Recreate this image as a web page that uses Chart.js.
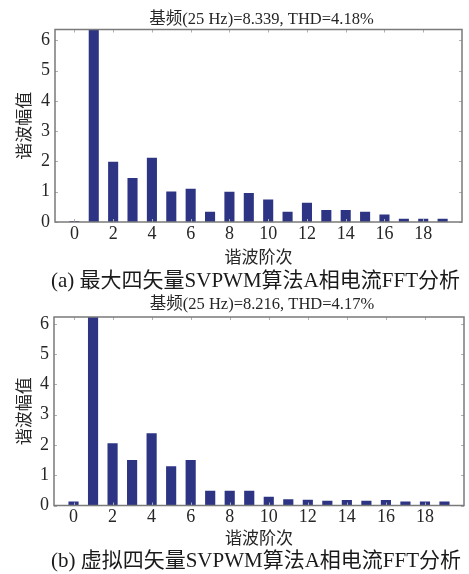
<!DOCTYPE html>
<html>
<head>
<meta charset="utf-8">
<script src="https://cdn.jsdelivr.net/npm/chart.js@4.4.1/dist/chart.umd.min.js"></script>
<style>
  html, body { margin: 0; padding: 0; background: #fff; }
  #wrap { position: relative; width: 469px; height: 574px; overflow: hidden; }
  canvas { position: absolute; left: 0; }
</style>
</head>
<body>
<div id="wrap">
  <canvas id="fftA" width="469" height="292" style="top:0px"></canvas>
  <canvas id="fftB" width="469" height="282" style="top:292px"></canvas>
</div>
<script>
// Harmonic orders shown on the spectrum (0 = DC, 1 = fundamental)
const harmonicOrders = [0, 1, 2, 3, 4, 5, 6, 7, 8, 9, 10, 11, 12, 13, 14, 15, 16, 17, 18, 19];

// (a) max four-vector SVPWM, phase-A current harmonic amplitudes
const magnitudesA = [0.03, 8.339, 1.99, 1.45, 2.12, 1.01, 1.10, 0.34, 1.00, 0.96, 0.74, 0.34, 0.64, 0.40, 0.40, 0.34, 0.25, 0.11, 0.11, 0.11];

// (b) virtual four-vector SVPWM, phase-A current harmonic amplitudes
const magnitudesB = [0.13, 8.216, 2.06, 1.50, 2.39, 1.30, 1.50, 0.49, 0.49, 0.49, 0.29, 0.21, 0.19, 0.16, 0.18, 0.16, 0.18, 0.13, 0.13, 0.13];

// Tick labels
const xTickValues = [0, 2, 4, 6, 8, 10, 12, 14, 16, 18];
const yTickValues = [0, 1, 2, 3, 4, 5, 6];

// Texts
const titleA = '基频(25 Hz)=8.339, THD=4.18%';
const titleB = '基频(25 Hz)=8.216, THD=4.17%';
const captionA = '(a) 最大四矢量SVPWM算法A相电流FFT分析';
const captionB = '(b) 虚拟四矢量SVPWM算法A相电流FFT分析';
const xAxisTitle = '谐波阶次';
const yAxisTitle = '谐波幅值';

const FONT = "'Liberation Serif', 'Noto Sans CJK SC', serif";
const TEXT = '#262626';
const BAR = '#2c3483';

// Box around the plot area with small inward tick marks
const framePlugin = {
  id: 'frame',
  afterDatasetsDraw(chart) {
    const { ctx, chartArea: a, scales } = chart;
    ctx.save();
    ctx.strokeStyle = '#b0b0b0';
    ctx.lineWidth = 1;
    ctx.beginPath();
    yTickValues.forEach(v => {
      const y = Math.round(scales.y.getPixelForValue(v)) + 0.5;
      ctx.moveTo(a.left, y); ctx.lineTo(a.left + 3, y);
      ctx.moveTo(a.right, y); ctx.lineTo(a.right - 3, y);
    });
    xTickValues.forEach(v => {
      const x = Math.round(scales.x.getPixelForValue(v)) + 0.5;
      ctx.moveTo(x, a.bottom); ctx.lineTo(x, a.bottom - 3);
      ctx.moveTo(x, a.top); ctx.lineTo(x, a.top + 3);
    });
    ctx.stroke();
    ctx.strokeStyle = '#7a7a7a';
    ctx.lineWidth = 1.5;
    ctx.strokeRect(a.left, a.top, a.right - a.left, a.bottom - a.top);
    ctx.restore();
  }
};

// Heading above the plot box and figure caption below the axis
const headingPlugin = {
  id: 'heading',
  afterDraw(chart, args, opts) {
    const { ctx, chartArea: a } = chart;
    const mid = (a.left + a.right) / 2;
    ctx.save();
    ctx.textAlign = 'center';
    ctx.textBaseline = 'middle';
    ctx.fillStyle = TEXT;
    ctx.font = `16.5px ${FONT}`;
    ctx.fillText(opts.title, mid + opts.titleShift, opts.titleY);
    ctx.fillStyle = '#1a1a1a';
    ctx.font = `21px ${FONT}`;
    ctx.fillText(opts.caption, mid + opts.captionShift, opts.captionY);
    ctx.restore();
  }
};

function makeChart(id, values, cfg) {
  return new Chart(document.getElementById(id), {
    type: 'bar',
    data: {
      datasets: [{
        data: harmonicOrders.map((h, i) => ({ x: h, y: values[i] })),
        backgroundColor: BAR,
        borderWidth: 0,
        barPercentage: 0.52,
        categoryPercentage: 1.0
      }]
    },
    options: {
      responsive: false,
      animation: false,
      devicePixelRatio: 1,
      layout: { padding: { left: 0, right: cfg.padRight, top: cfg.padTop, bottom: cfg.padBottom } },
      plugins: {
        legend: { display: false },
        tooltip: { enabled: false },
        title: { display: false },
        heading: {
          title: cfg.title, titleY: cfg.titleY, titleShift: 3,
          caption: cfg.caption, captionY: cfg.captionY, captionShift: -3
        }
      },
      scales: {
        x: {
          type: 'linear',
          min: -1,
          max: 20,
          offset: false,
          grid: { display: false, drawTicks: false },
          border: { display: false },
          afterBuildTicks: s => { s.ticks = xTickValues.map(v => ({ value: v })); },
          afterFit: s => { s.height = cfg.xHeight; },
          ticks: {
            autoSkip: false, maxRotation: 0, padding: 1,
            color: TEXT, font: { family: FONT, size: 18 }
          },
          title: {
            display: true, text: xAxisTitle, color: TEXT,
            font: { family: FONT, size: 17, lineHeight: 1.2 },
            padding: { top: 0, bottom: cfg.xTitlePad }
          }
        },
        y: {
          min: 0,
          max: cfg.yMax,
          grid: { display: false, drawTicks: false },
          border: { display: false },
          afterBuildTicks: s => { s.ticks = yTickValues.map(v => ({ value: v })); },
          afterFit: s => { s.width = cfg.yWidth; },
          ticks: {
            padding: 5,
            color: TEXT, font: { family: FONT, size: 18 }
          },
          title: {
            display: true, text: yAxisTitle, color: TEXT,
            font: { family: FONT, size: 17, lineHeight: 1.2 },
            padding: { top: 15, bottom: 0 }
          }
        }
      }
    },
    plugins: [framePlugin, headingPlugin]
  });
}

makeChart('fftA', magnitudesA, {
  title: titleA, caption: captionA, yMax: 6.36,
  titleY: 20, captionY: 281,
  padTop: 29.5, padBottom: 21.5, xHeight: 48.5, xTitlePad: 1.5,
  yWidth: 55, padRight: 7
});

makeChart('fftB', magnitudesB, {
  title: titleB, caption: captionB, yMax: 6.23,
  titleY: 13, captionY: 269,
  padTop: 25, padBottom: 23.5, xHeight: 45, xTitlePad: 1,
  yWidth: 54, padRight: 5
});
</script>
</body>
</html>
